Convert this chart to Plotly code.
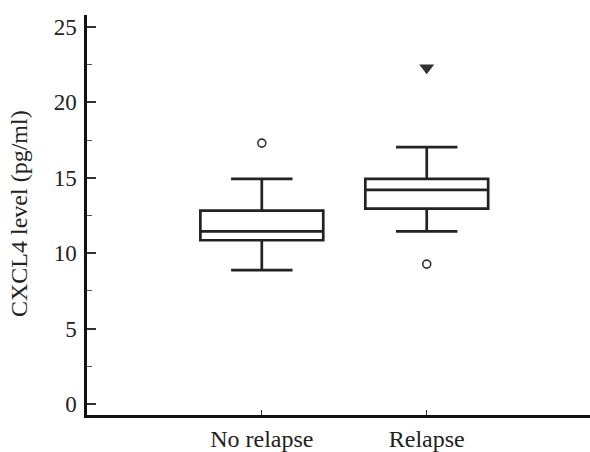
import plotly.graph_objects as go

groups = ["No relapse", "Relapse"]
q1 = [10.86, 12.96]
median = [11.45, 14.2]
q3 = [12.83, 14.93]
lower_whisker = [8.88, 11.45]
upper_whisker = [14.93, 17.04]

outlier_groups = ["No relapse", "Relapse"]
outlier_values = [17.3, 9.28]
extreme_groups = ["Relapse"]
extreme_values = [22.3]

y_ticks = [0, 5, 10, 15, 20, 25]

FONT = "Liberation Serif, Times New Roman, serif"

fig = go.Figure()
fig.add_trace(go.Box(
    x=groups, q1=q1, median=median, q3=q3,
    lowerfence=lower_whisker, upperfence=upper_whisker,
    boxpoints=False, width=0.745, whiskerwidth=0.5,
    fillcolor="white", line=dict(color="#222222", width=2.7),
    showlegend=False, hoverinfo="skip",
))
fig.add_trace(go.Scatter(
    x=outlier_groups, y=outlier_values, mode="markers",
    marker=dict(symbol="circle-open", size=8, color="#333333", line=dict(width=1.6)),
    showlegend=False,
))
fig.add_trace(go.Scatter(
    x=extreme_groups, y=extreme_values, mode="markers",
    marker=dict(symbol="triangle-down", size=13, color="#333333"),
    showlegend=False,
))

fig.update_layout(
    width=590, height=452,
    margin=dict(l=87, r=0, t=15, b=34),
    plot_bgcolor="white", paper_bgcolor="white",
    font=dict(family=FONT, size=24, color="#222222"),
    xaxis=dict(
        type="category", categoryorder="array", categoryarray=groups,
        range=[-1.06, 1.99],
        showline=True, linecolor="#111111", linewidth=2.5,
        ticks="inside", ticklen=5, tickwidth=1.2, tickcolor="#333333",
        showgrid=False, zeroline=False,
        tickfont=dict(family=FONT, size=24),
    ),
    yaxis=dict(
        range=[-0.72, 25.79],
        tickvals=y_ticks, ticktext=[str(v) for v in y_ticks],
        showline=True, linecolor="#111111", linewidth=2.5,
        ticks="inside", ticklen=9, tickwidth=1.5, tickcolor="#333333",
        minor=dict(ticks="inside", ticklen=5, tickwidth=1.2, tickcolor="#555555", dtick=2.5, tick0=0, showgrid=False),
        showgrid=False, zeroline=False,
        ticklabelstandoff=3,
        tickfont=dict(family=FONT, size=23),
    ),
    annotations=[dict(
        text="CXCL4 level (pg/ml)", textangle=-90,
        xref="paper", yref="paper", x=-0.134, y=0.504,
        xanchor="center", yanchor="middle", showarrow=False,
        font=dict(family=FONT, size=24, color="#222222"),
    )],
)

fig.write_html("out.html")
